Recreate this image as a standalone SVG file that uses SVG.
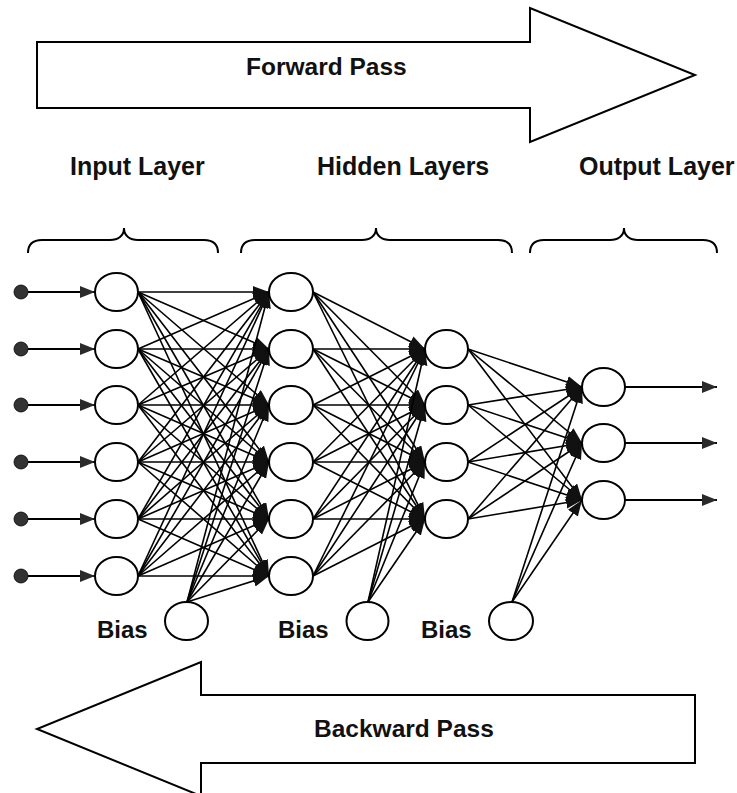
<svg xmlns="http://www.w3.org/2000/svg" width="737" height="793" viewBox="0 0 737 793">
  <style>
    .lbl{font-family:"Liberation Sans",Arial,sans-serif;font-weight:bold;font-size:25px;fill:#111}
    .bias{font-size:24px}
    .pass{font-size:24.5px}
    .node{fill:#fff;stroke:#000;stroke-width:2}
    .dot{fill:#333;stroke:#000;stroke-width:0.8}
    .big{fill:#fff;stroke:#000;stroke-width:2;stroke-linejoin:miter}
    .brace{fill:none;stroke:#000;stroke-width:2}
    .edges line{stroke:#000;stroke-width:1.6;marker-end:url(#ah)}
    .io line{stroke:#000;stroke-width:1.9;marker-end:url(#ah2)}
  </style>
  <defs>
    <marker id="ah" markerUnits="userSpaceOnUse" markerWidth="17" markerHeight="13" refX="16" refY="6" orient="auto">
      <path d="M0,0 L16,6 L0,12 z" fill="#111"/>
    </marker>
    <marker id="ah2" markerUnits="userSpaceOnUse" markerWidth="16" markerHeight="13" refX="15" refY="6" orient="auto">
      <path d="M0,0 L15,6 L0,12 z" fill="#2a2a2a"/>
    </marker>
  </defs>

  <!-- direction arrows -->
  <g id="forward-pass">
    <path class="big" d="M37,42 L530,42 L530,8 L695,75 L530,142 L530,108 L37,108 Z"/>
    <text class="lbl pass" x="246" y="75">Forward Pass</text>
  </g>
  <g id="backward-pass">
    <path class="big" d="M695,695 L201,695 L201,662 L37,729 L201,796 L201,763 L695,763 Z"/>
    <text class="lbl pass" x="314" y="737">Backward Pass</text>
  </g>

  <!-- layer titles and braces -->
  <g id="input-layer-title">
    <text class="lbl" x="70" y="175">Input Layer</text>
    <path class="brace" d="M28,253 C28,245 32,240 42,240 L110,240 C118,240 124,236 124,228 C124,236 130,240 138,240 L204,240 C214,240 218,245 218,253"/>
  </g>
  <g id="hidden-layers-title">
    <text class="lbl" x="317" y="175">Hidden Layers</text>
    <path class="brace" d="M241,253 C241,245 245,240 255,240 L362,240 C370,240 376,236 376,228 C376,236 382,240 390,240 L498,240 C508,240 512,245 512,253"/>
  </g>
  <g id="output-layer-title">
    <text class="lbl" x="579" y="175">Output Layer</text>
    <path class="brace" d="M530,253 C530,245 534,240 544,240 L610,240 C618,240 624,236 624,228 C624,236 630,240 638,240 L703,240 C713,240 717,245 717,253"/>
  </g>

  <!-- connectors -->
  <g id="connectors">
    <g class="io">
      <line x1="28" y1="292" x2="95" y2="292"/>
      <line x1="28" y1="349" x2="95" y2="349"/>
      <line x1="28" y1="405" x2="95" y2="405"/>
      <line x1="28" y1="462" x2="95" y2="462"/>
      <line x1="28" y1="519" x2="95" y2="519"/>
      <line x1="28" y1="576" x2="95" y2="576"/>
      <line x1="625" y1="387" x2="717" y2="387"/>
      <line x1="625" y1="443" x2="717" y2="443"/>
      <line x1="625" y1="500" x2="717" y2="500"/>
    </g>
    <g class="edges">
      <!-- input -> hidden 1 -->
      <line x1="138" y1="292" x2="269" y2="292"/>
      <line x1="138" y1="292" x2="269" y2="349"/>
      <line x1="138" y1="292" x2="269" y2="405"/>
      <line x1="138" y1="292" x2="269" y2="462"/>
      <line x1="138" y1="292" x2="269" y2="519"/>
      <line x1="138" y1="292" x2="269" y2="576"/>
      <line x1="138" y1="349" x2="269" y2="292"/>
      <line x1="138" y1="349" x2="269" y2="349"/>
      <line x1="138" y1="349" x2="269" y2="405"/>
      <line x1="138" y1="349" x2="269" y2="462"/>
      <line x1="138" y1="349" x2="269" y2="519"/>
      <line x1="138" y1="349" x2="269" y2="576"/>
      <line x1="138" y1="405" x2="269" y2="292"/>
      <line x1="138" y1="405" x2="269" y2="349"/>
      <line x1="138" y1="405" x2="269" y2="405"/>
      <line x1="138" y1="405" x2="269" y2="462"/>
      <line x1="138" y1="405" x2="269" y2="519"/>
      <line x1="138" y1="405" x2="269" y2="576"/>
      <line x1="138" y1="462" x2="269" y2="292"/>
      <line x1="138" y1="462" x2="269" y2="349"/>
      <line x1="138" y1="462" x2="269" y2="405"/>
      <line x1="138" y1="462" x2="269" y2="462"/>
      <line x1="138" y1="462" x2="269" y2="519"/>
      <line x1="138" y1="462" x2="269" y2="576"/>
      <line x1="138" y1="519" x2="269" y2="292"/>
      <line x1="138" y1="519" x2="269" y2="349"/>
      <line x1="138" y1="519" x2="269" y2="405"/>
      <line x1="138" y1="519" x2="269" y2="462"/>
      <line x1="138" y1="519" x2="269" y2="519"/>
      <line x1="138" y1="519" x2="269" y2="576"/>
      <line x1="138" y1="576" x2="269" y2="292"/>
      <line x1="138" y1="576" x2="269" y2="349"/>
      <line x1="138" y1="576" x2="269" y2="405"/>
      <line x1="138" y1="576" x2="269" y2="462"/>
      <line x1="138" y1="576" x2="269" y2="519"/>
      <line x1="138" y1="576" x2="269" y2="576"/>
      <!-- bias -> hidden 1 -->
      <line x1="187" y1="602" x2="269" y2="292"/>
      <line x1="187" y1="602" x2="269" y2="349"/>
      <line x1="187" y1="602" x2="269" y2="405"/>
      <line x1="187" y1="602" x2="269" y2="462"/>
      <line x1="187" y1="602" x2="269" y2="519"/>
      <line x1="187" y1="602" x2="269" y2="576"/>
      <!-- hidden 1 -> hidden 2 -->
      <line x1="313" y1="292" x2="425" y2="349"/>
      <line x1="313" y1="292" x2="425" y2="405"/>
      <line x1="313" y1="292" x2="425" y2="462"/>
      <line x1="313" y1="292" x2="425" y2="519"/>
      <line x1="313" y1="349" x2="425" y2="349"/>
      <line x1="313" y1="349" x2="425" y2="405"/>
      <line x1="313" y1="349" x2="425" y2="462"/>
      <line x1="313" y1="349" x2="425" y2="519"/>
      <line x1="313" y1="405" x2="425" y2="349"/>
      <line x1="313" y1="405" x2="425" y2="405"/>
      <line x1="313" y1="405" x2="425" y2="462"/>
      <line x1="313" y1="405" x2="425" y2="519"/>
      <line x1="313" y1="462" x2="425" y2="349"/>
      <line x1="313" y1="462" x2="425" y2="405"/>
      <line x1="313" y1="462" x2="425" y2="462"/>
      <line x1="313" y1="462" x2="425" y2="519"/>
      <line x1="313" y1="519" x2="425" y2="349"/>
      <line x1="313" y1="519" x2="425" y2="405"/>
      <line x1="313" y1="519" x2="425" y2="462"/>
      <line x1="313" y1="519" x2="425" y2="519"/>
      <line x1="313" y1="576" x2="425" y2="349"/>
      <line x1="313" y1="576" x2="425" y2="405"/>
      <line x1="313" y1="576" x2="425" y2="462"/>
      <line x1="313" y1="576" x2="425" y2="519"/>
      <!-- bias -> hidden 2 -->
      <line x1="368" y1="602" x2="425" y2="349"/>
      <line x1="368" y1="602" x2="425" y2="405"/>
      <line x1="368" y1="602" x2="425" y2="462"/>
      <line x1="368" y1="602" x2="425" y2="519"/>
      <!-- hidden 2 -> output -->
      <line x1="468" y1="349" x2="582" y2="387"/>
      <line x1="468" y1="349" x2="582" y2="443"/>
      <line x1="468" y1="349" x2="582" y2="500"/>
      <line x1="468" y1="405" x2="582" y2="387"/>
      <line x1="468" y1="405" x2="582" y2="443"/>
      <line x1="468" y1="405" x2="582" y2="500"/>
      <line x1="468" y1="462" x2="582" y2="387"/>
      <line x1="468" y1="462" x2="582" y2="443"/>
      <line x1="468" y1="462" x2="582" y2="500"/>
      <line x1="468" y1="519" x2="582" y2="387"/>
      <line x1="468" y1="519" x2="582" y2="443"/>
      <line x1="468" y1="519" x2="582" y2="500"/>
      <!-- bias -> output -->
      <line x1="512" y1="602" x2="582" y2="387"/>
      <line x1="512" y1="602" x2="582" y2="443"/>
      <line x1="512" y1="602" x2="582" y2="500"/>
    </g>
  </g>

  <!-- input signals -->
  <g id="x1"><circle class="dot" cx="21" cy="292" r="7"/></g>
  <g id="x2"><circle class="dot" cx="21" cy="349" r="7"/></g>
  <g id="x3"><circle class="dot" cx="21" cy="405" r="7"/></g>
  <g id="x4"><circle class="dot" cx="21" cy="462" r="7"/></g>
  <g id="x5"><circle class="dot" cx="21" cy="519" r="7"/></g>
  <g id="x6"><circle class="dot" cx="21" cy="576" r="7"/></g>

  <!-- input layer -->
  <g id="in1"><ellipse class="node" cx="116.5" cy="292" rx="21.5" ry="19"/></g>
  <g id="in2"><ellipse class="node" cx="116.5" cy="349" rx="21.5" ry="19"/></g>
  <g id="in3"><ellipse class="node" cx="116.5" cy="405" rx="21.5" ry="19"/></g>
  <g id="in4"><ellipse class="node" cx="116.5" cy="462" rx="21.5" ry="19"/></g>
  <g id="in5"><ellipse class="node" cx="116.5" cy="519" rx="21.5" ry="19"/></g>
  <g id="in6"><ellipse class="node" cx="116.5" cy="576" rx="21.5" ry="19"/></g>

  <!-- hidden layer 1 -->
  <g id="h1-1"><ellipse class="node" cx="291" cy="292" rx="22" ry="19"/></g>
  <g id="h1-2"><ellipse class="node" cx="291" cy="349" rx="22" ry="19"/></g>
  <g id="h1-3"><ellipse class="node" cx="291" cy="405" rx="22" ry="19"/></g>
  <g id="h1-4"><ellipse class="node" cx="291" cy="462" rx="22" ry="19"/></g>
  <g id="h1-5"><ellipse class="node" cx="291" cy="519" rx="22" ry="19"/></g>
  <g id="h1-6"><ellipse class="node" cx="291" cy="576" rx="22" ry="19"/></g>

  <!-- hidden layer 2 -->
  <g id="h2-1"><ellipse class="node" cx="446.5" cy="349" rx="21.5" ry="19"/></g>
  <g id="h2-2"><ellipse class="node" cx="446.5" cy="405" rx="21.5" ry="19"/></g>
  <g id="h2-3"><ellipse class="node" cx="446.5" cy="462" rx="21.5" ry="19"/></g>
  <g id="h2-4"><ellipse class="node" cx="446.5" cy="519" rx="21.5" ry="19"/></g>

  <!-- output layer -->
  <g id="out1"><ellipse class="node" cx="603.5" cy="387" rx="21.5" ry="19"/></g>
  <g id="out2"><ellipse class="node" cx="603.5" cy="443" rx="21.5" ry="19"/></g>
  <g id="out3"><ellipse class="node" cx="603.5" cy="500" rx="21.5" ry="19"/></g>

  <!-- bias units -->
  <g id="bias1">
    <ellipse class="node" cx="186.5" cy="621" rx="21.5" ry="19"/>
    <text class="lbl bias" x="97" y="638">Bias</text>
  </g>
  <g id="bias2">
    <ellipse class="node" cx="367.5" cy="621" rx="21" ry="19"/>
    <text class="lbl bias" x="278" y="638">Bias</text>
  </g>
  <g id="bias3">
    <ellipse class="node" cx="511" cy="621" rx="22" ry="19"/>
    <text class="lbl bias" x="421" y="638">Bias</text>
  </g>
</svg>
